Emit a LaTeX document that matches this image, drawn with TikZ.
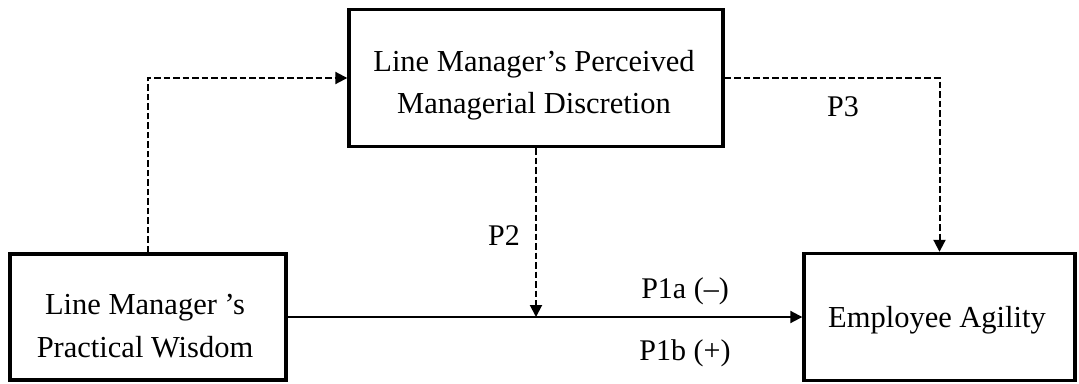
\documentclass[tikz,border=0pt]{standalone}
\usepackage{fontspec}
\setmainfont{Liberation Serif}
\usetikzlibrary{arrows.meta}
\begin{document}
\begin{tikzpicture}[x=1pt,y=-1pt,
  box/.style={draw=black,line width=3.4pt,inner sep=0pt},
  txt/.style={inner sep=0pt,align=center,font=\fontsize{30.5}{41.5}\selectfont},
  lbl/.style={inner sep=0pt,font=\fontsize{30}{36}\selectfont},
  conn/.style={line width=2pt,-{Triangle[length=12pt,width=12pt]}},
  dashconn/.style={conn,dash pattern=on 6.5pt off 3pt}]
\useasboundingbox (0,0) rectangle (1079,383);
\node[box,minimum width=374pt,minimum height=137pt] (disc) at (536,78) {};
\node[box,minimum width=276pt,minimum height=126pt] (wis) at (148,317) {};
\node[box,minimum width=271pt,minimum height=127pt] (agil) at (939.5,317) {};
\node[txt] (disct) at (534,85) {Line Manager’s Perceived\\Managerial Discretion};
\node[txt,font=\fontsize{30.5}{43}\selectfont] (wist) at (145,326) {Line Manager ’s\\Practical Wisdom};
\node[txt] (agilt) at (937,320) {Employee Agility};
\coordinate (m) at (disc.south |- wis.east);
\draw[dashconn] (wis.north) |- (disc.west);
\draw[dashconn] (disc.east) -| (agil.north);
\draw[conn] (wis.east) -- (agil.west);
\draw[dashconn] (disc.south) -- (m);
\node[lbl] (p3) at (843,107) {P3};
\node[lbl] (p2) at (504,236) {P2};
\node[lbl] (p1a) at (685,291) {P1a (–)};
\node[lbl] (p1b) at (685,353) {P1b (+)};
\end{tikzpicture}
\end{document}
